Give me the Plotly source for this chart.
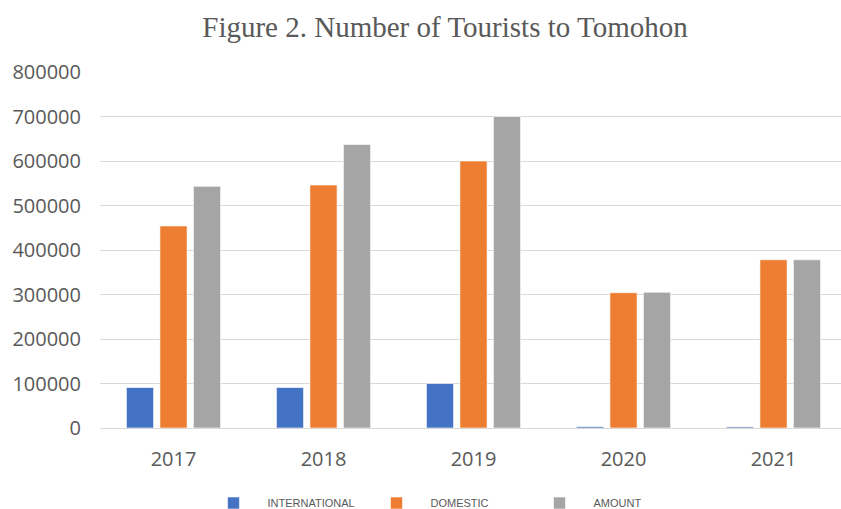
import plotly.graph_objects as go

years = ["2017", "2018", "2019", "2020", "2021"]
international = [91000, 91000, 100000, 3000, 2500]
domestic = [454000, 546000, 600000, 304000, 378000]
amount = [543000, 637000, 700000, 305000, 378000]
series_names = ["INTERNATIONAL", "DOMESTIC", "AMOUNT"]
colors = ["#4472C4", "#ED7D31", "#A5A5A5"]
y_ticks = [0, 100000, 200000, 300000, 400000, 500000, 600000, 700000, 800000]

W, H = 841, 509

fig = go.Figure()
for name, vals, col in zip(series_names, [international, domestic, amount], colors):
    fig.add_trace(go.Bar(
        x=years, y=vals, name=name,
        marker=dict(color=col, line=dict(color="rgba(255,255,255,0.6)", width=1)),
    ))

fig.update_layout(
    width=W, height=H,
    margin=dict(l=100, r=0, t=72, b=81),
    paper_bgcolor="white", plot_bgcolor="white",
    barmode="group", bargap=0.33, bargroupgap=0.19,
    title=dict(
        text="Figure 2. Number of Tourists to Tomohon",
        x=445 / W, xanchor="center", xref="container",
        y=1 - 27 / H, yanchor="middle", yref="container",
        font=dict(family="Liberation Serif", size=29, color="#595959"),
    ),
    font=dict(family="Open Sans", color="#595959"),
    legend=dict(
        orientation="h", xref="container", yref="container",
        x=444 / W, xanchor="center", y=(H - 503) / H, yanchor="middle",
        font=dict(family="Liberation Sans", size=11, color="#595959"),
        itemwidth=58, tracegroupgap=0, entrywidth=90,
    ),
    showlegend=True,
)
fig.update_xaxes(
    type="category", range=[-0.49, 4.45],
    showgrid=False, showline=True, linecolor="#d9d9d9", linewidth=1,
    ticks="", ticklabelstandoff=13,
    tickfont=dict(family="Open Sans", size=20, color="#595959"),
)
fig.update_yaxes(
    range=[0, 800000], tickvals=y_ticks, ticktext=[str(v) for v in y_ticks],
    showgrid=True, gridcolor="#d9d9d9", gridwidth=1, zeroline=False,
    ticks="", ticklabelstandoff=18,
    tickfont=dict(family="Open Sans", size=20, color="#595959"),
)

fig.write_html(
    "out.html",
    config={"displayModeBar": False},
    post_script="document.body.style.margin='0';document.body.style.overflow='hidden';",
)
